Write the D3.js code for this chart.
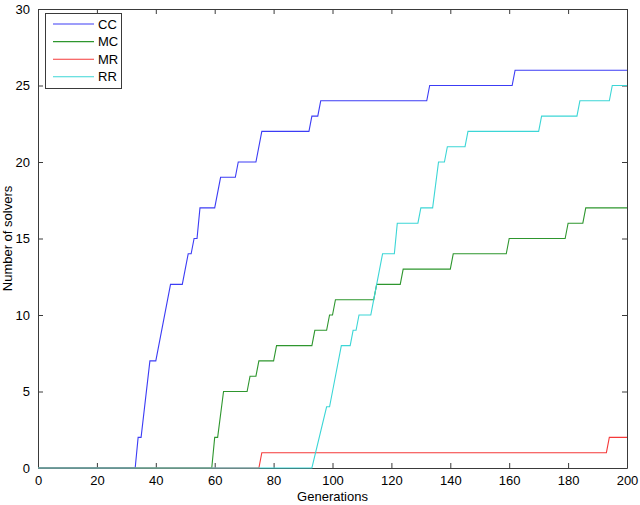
<!DOCTYPE html>
<html><head><meta charset="utf-8">
<script src="https://cdn.jsdelivr.net/npm/d3@7"></script>
<style>body{margin:0;background:#fff}svg{display:block;font-family:"Liberation Sans",Arial,sans-serif}</style>
</head><body><svg id="c" width="640" height="505"></svg>
<script>
// Series: vertices [generation, number of solvers]
const seriesNames = ["CC", "MC", "MR", "RR"];
const seriesColors = ["#3c3cf5", "#2e962e", "#f53a3a", "#3cd6d6"];
const CC = [[0,0],[33,0],[34,2],[35,2],[38,7],[40,7],[45,12],[49,12],[51,14],[52,14],[53,15],[54,15],[55,17],[60,17],[62,19],[67,19],[68,20],[74,20],[76,22],[92,22],[93,23],[95,23],[96,24],[132,24],[133,25],[161,25],[162,26],[200,26]];
const MC = [[0,0],[59,0],[60,2],[61,2],[63,5],[71,5],[72,6],[74,6],[75,7],[80,7],[81,8],[93,8],[94,9],[98,9],[99,10],[100,10],[101,11],[114,11],[115,12],[123,12],[124,13],[140,13],[141,14],[159,14],[160,15],[179,15],[180,16],[185,16],[186,17],[200,17]];
const MR = [[0,0],[75,0],[76,1],[193,1],[194,2],[200,2]];
const RR = [[0,0],[93,0],[98,4],[99,4],[100,5],[103,8],[106,8],[107,9],[108,9],[109,10],[113,10],[114,11],[117,14],[121,14],[122,16],[129,16],[130,17],[134,17],[136,20],[138,20],[139,21],[145,21],[146,22],[170,22],[171,23],[183,23],[184,24],[194,24],[195,25],[200,25]];
const xTicks = [0,20,40,60,80,100,120,140,160,180,200];
const yTicks = [0,5,10,15,20,25,30];
const xLabel = "Generations";
const yLabel = "Number of solvers";

const data = [CC, MC, MR, RR];
const svg = d3.select("#c");
const L = 38, R = 627, T = 9, B = 468;
const x = d3.scaleLinear().domain([0,200]).range([L,R]);
const y = d3.scaleLinear().domain([0,30]).range([B,T]);
const axisColor = "#3a3a3a";

// axes
const gx = svg.append("g").attr("transform",`translate(0,${B})`)
  .call(d3.axisBottom(x).tickValues(xTicks).tickSizeInner(-5).tickSizeOuter(0).tickPadding(8));
const gxt = svg.append("g").attr("transform",`translate(0,${T})`)
  .call(d3.axisTop(x).tickValues(xTicks).tickSizeInner(-5).tickSizeOuter(0).tickFormat(""));
const gy = svg.append("g").attr("transform",`translate(${L},0)`)
  .call(d3.axisLeft(y).tickValues(yTicks).tickSizeInner(-5).tickSizeOuter(0).tickPadding(8));
const gyr = svg.append("g").attr("transform",`translate(${R},0)`)
  .call(d3.axisRight(y).tickValues(yTicks).tickSizeInner(-5).tickSizeOuter(0).tickFormat(""));
[gx,gxt,gy,gyr].forEach(g=>{
  g.selectAll("path").attr("stroke",axisColor);
  g.selectAll("line").attr("stroke",axisColor);
  g.selectAll("text").attr("fill","#000").style("font-size","13px").style("font-family",'"Liberation Sans",Arial,sans-serif');
});

// lines drawn over the axes (cyan last, covering the baseline)
const line = d3.line().x(d=>x(d[0])).y(d=>y(d[1]));
data.forEach((s,i)=>{
  svg.append("path").attr("d", line(s)).attr("fill","none")
    .attr("stroke", seriesColors[i]).attr("stroke-width",1.1);
});

svg.append("text").attr("x",(L+R)/2).attr("y",501).attr("text-anchor","middle")
  .style("font-size","13px").text(xLabel);
svg.append("text").attr("transform",`translate(12,${(T+B)/2}) rotate(-90)`).attr("text-anchor","middle")
  .style("font-size","13px").text(yLabel);

// legend
const lg = svg.append("g");
lg.append("rect").attr("x",45.5).attr("y",13.5).attr("width",76).attr("height",75)
  .attr("fill","#fff").attr("stroke",axisColor);
seriesNames.forEach((n,i)=>{
  const yy = 24 + i*17.6;
  lg.append("line").attr("x1",53).attr("x2",94).attr("y1",yy).attr("y2",yy)
    .attr("stroke",seriesColors[i]).attr("stroke-width",1.1);
  lg.append("text").attr("x",98).attr("y",yy+4.5).style("font-size","13px").text(n);
});
</script></body></html>
